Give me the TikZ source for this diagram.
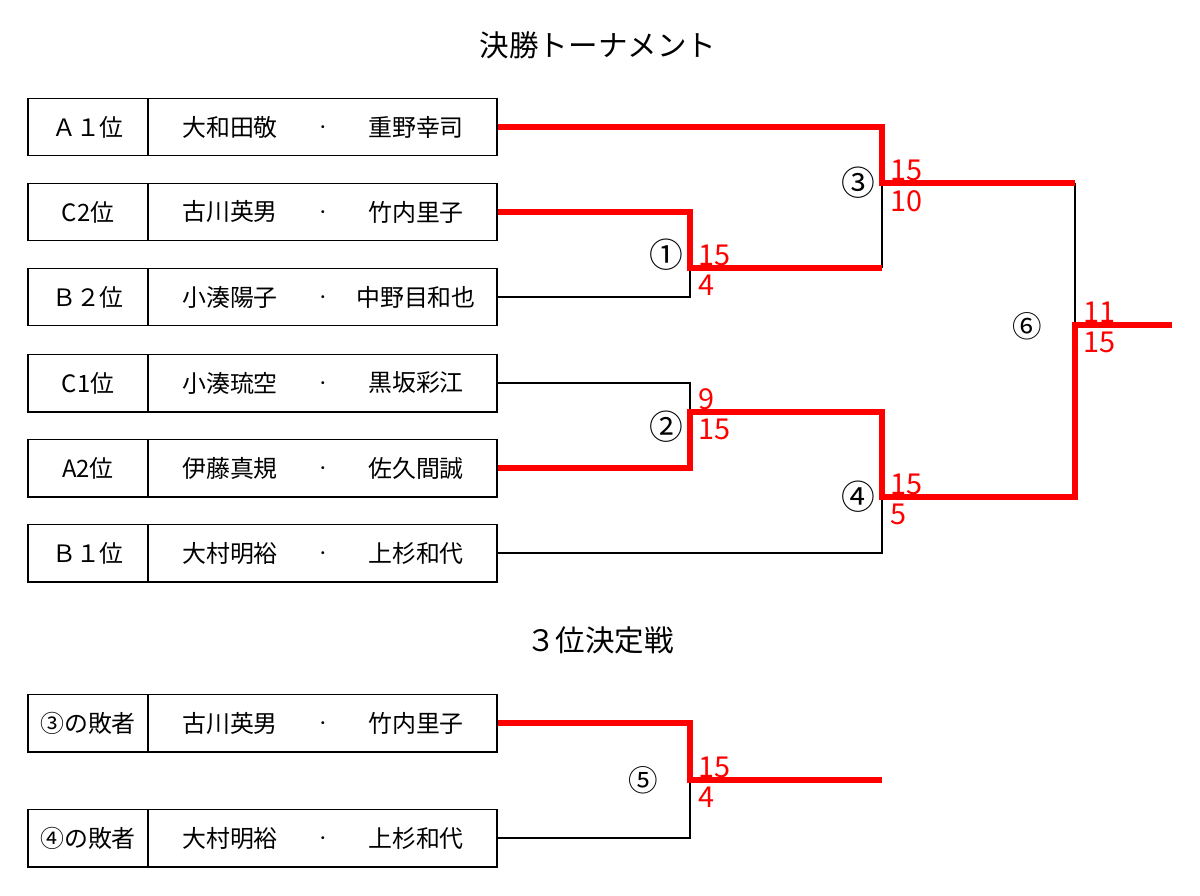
\documentclass[tikz,border=0pt]{standalone}
\usepackage{fontspec}
\setmainfont{Noto Sans CJK JP}
\begin{document}
\begin{tikzpicture}[x=0.025cm,y=-0.025cm,
		platz/.style={draw,line width=1.4pt,minimum width=3cm,minimum height=1.425cm,inner sep=0pt,font=\fontsize{17}{20}\selectfont},
		paar/.style={draw,line width=1.4pt,minimum width=8.725cm,minimum height=1.425cm,inner sep=0pt},
		spieler/.style={inner sep=0pt,font=\fontsize{17}{20}\selectfont},
		punkt/.style={inner sep=0pt,anchor=base,yshift=-3.8pt,font=\fontsize{10}{10}\selectfont},
		nummer/.style={inner sep=0pt,font=\fontsize{24}{26}\selectfont},
		klein/.style={inner sep=0pt,font=\fontsize{21}{23}\selectfont},
		titel/.style={inner sep=0pt,font=\fontsize{21}{24}\selectfont},
		punkte/.style={inner sep=0pt,text=red,font=\fontsize{20.5}{22}\selectfont},
		oben/.style={punkte,anchor=south west,xshift=0.2cm,yshift=0.05cm},
		unten/.style={punkte,anchor=north west,xshift=0.2cm,yshift=-0.175cm},
		sieg/.style={draw=red,line width=4.25pt},
		linie/.style={draw=black,line width=0.8pt}]
		
		\useasboundingbox (0,0) rectangle (1200,895);
		
		% Ueberschriften
		\node[titel] (final) at (598,45) {決勝トーナメント};
		\node[titel] (dritter) at (600,640) {３位決定戦};
		
		% Paarungen
		\foreach \i/\y/\rang/\a/\b in {1/127/Ａ１位/大和田敬/重野幸司, 2/212/C2位/古川英男/竹内里子,
			3/297/Ｂ２位/小湊陽子/中野目和也, 4/383/C1位/小湊琉空/黒坂彩江, 5/468/A2位/伊藤真規/佐久間誠,
			6/553/Ｂ１位/大村明裕/上杉和代, 7/723/③の敗者/古川英男/竹内里子, 8/838/④の敗者/大村明裕/上杉和代} {
			\node[platz] (p\i) at (88,\y) {\rang};
			\node[paar] (t\i) at (322.5,\y) {};
			\node[spieler] (a\i) at (230,\y) {\a};
			\node[punkt] (d\i) at (323,\y) {・};
			\node[spieler] (b\i) at (416,\y) {\b};
		}
		
		% Knoten der Spiele
		\coordinate (m1) at (690,268);
		\coordinate (m2) at (690,412);
		\coordinate (m3) at (882,183);
		\coordinate (m4) at (882,497);
		\coordinate (m5) at (690,780);
		\coordinate (m6) at (1075,325);
		\coordinate (ende5) at (882,780);
		\coordinate (ende6) at (1172,325);
		
		% Verlierer
		\draw[linie] (t3.east) -| (m1);
		\draw[linie] (t4.east) -| (m2);
		\draw[linie] (t6.east) -| (m4);
		\draw[linie] (m1 -| m3) -- (m3);
		\draw[linie] (m3 -| m6) -- (m6);
		\draw[linie] (t8.east) -| (m5);
		
		% Sieger
		\draw[sieg] (t2.east) -| (m1) -- (m1 -| m3);
		\draw[sieg] (t1.east) -| (m3) -- (m3 -| m6);
		\draw[sieg] (t5.east) -| (m2) -| (m4) -| (m6) -- (ende6);
		\draw[sieg] (t7.east) -| (m5) -- (ende5);
		
		% Spielnummern
		\node[nummer] (n1) at (666,255) {①};
		\node[nummer] (n2) at (666,427) {②};
		\node[nummer] (n3) at (858,183) {③};
		\node[nummer] (n4) at (858,497) {④};
		\node[klein] (n5) at (643,780) {⑤};
		\node[klein] (n6) at (1027,326) {⑥};
		
		% Ergebnisse
		\node[oben] (s1o) at (m1) {15};
		\node[unten] (s1u) at (m1) {4};
		\node[oben] (s2o) at (m2) {9};
		\node[unten] (s2u) at (m2) {15};
		\node[oben] (s3o) at (m3) {15};
		\node[unten] (s3u) at (m3) {10};
		\node[oben] (s4o) at (m4) {15};
		\node[unten] (s4u) at (m4) {5};
		\node[oben] (s5o) at (m5) {15};
		\node[unten] (s5u) at (m5) {4};
		\node[oben] (s6o) at (m6) {11};
		\node[unten] (s6u) at (m6) {15};
		
	\end{tikzpicture}
\end{document}
